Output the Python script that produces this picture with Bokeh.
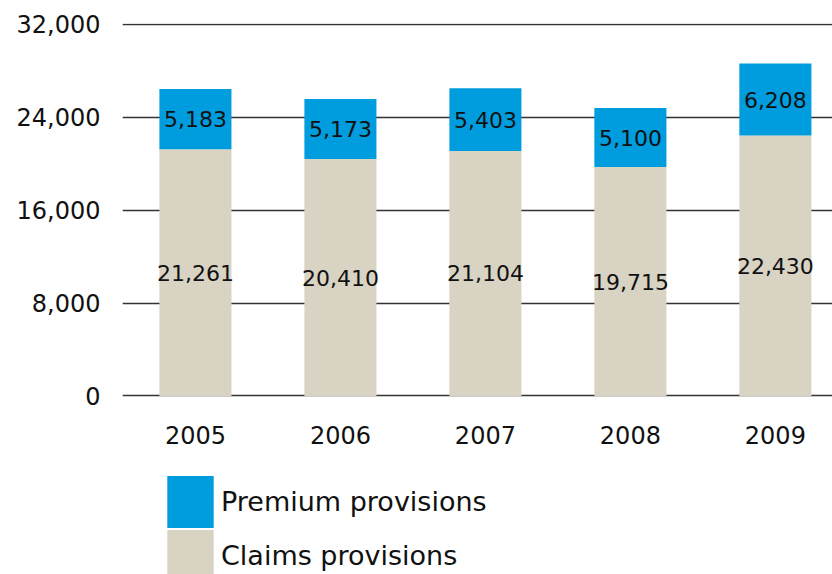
from bokeh.plotting import figure
from bokeh.models import ColumnDataSource, Range1d, FixedTicker, NumeralTickFormatter, Legend, LegendItem
from bokeh.core.properties import value
from bokeh.embed import file_html
from bokeh.resources import INLINE

years = [2005, 2006, 2007, 2008, 2009]
year_labels = ["2005", "2006", "2007", "2008", "2009"]
claims = [21261, 20410, 21104, 19715, 22430]
premium = [5183, 5173, 5403, 5100, 6208]
y_ticks = [0, 8000, 16000, 24000, 32000]
series_names = ["Premium provisions", "Claims provisions"]

BLUE = "#009DDE"
BEIGE = "#D8D3C3"
FONT = "DejaVu Sans"

totals = [c + p for c, p in zip(claims, premium)]
src = ColumnDataSource(dict(
    x=years,
    claims=claims,
    premium=premium,
    total=totals,
    zero=[0] * len(years),
    claims_mid=[c / 2 for c in claims],
    premium_mid=[c + p / 2 for c, p in zip(claims, premium)],
    claims_txt=[f"{c:,}" for c in claims],
    premium_txt=[f"{p:,}" for p in premium],
))

p = figure(width=832, height=574, output_backend="svg", toolbar_location=None,
           x_range=Range1d(2004.497, 2009.394), y_range=Range1d(-15376, 32086),
           min_border_left=122, min_border_right=0, min_border_top=23, min_border_bottom=0)
p.outline_line_color = None
p.background_fill_color = "white"
p.border_fill_color = "white"

r_claims = p.vbar(x="x", bottom="zero", top="claims", width=0.497, source=src,
                  fill_color=BEIGE, line_color=None)
r_prem = p.vbar(x="x", bottom="claims", top="total", width=0.497, source=src,
                fill_color=BLUE, line_color=None)

p.text(x="x", y="claims_mid", text="claims_txt", source=src, text_align="center",
       text_baseline="middle", text_font=value(FONT), text_font_size="22px", text_color="#111111")
p.text(x="x", y="premium_mid", text="premium_txt", source=src, text_align="center",
       text_baseline="middle", text_font=value(FONT), text_font_size="22px", text_color="#111111")

p.xgrid.grid_line_color = None
p.ygrid.ticker = FixedTicker(ticks=y_ticks)
p.ygrid.grid_line_color = "#333333"
p.ygrid.grid_line_width = 1.4

p.yaxis.ticker = FixedTicker(ticks=y_ticks)
p.yaxis.formatter = NumeralTickFormatter(format="0,0")
p.xaxis.ticker = FixedTicker(ticks=years)
p.xaxis.major_label_overrides = {y: l for y, l in zip(years, year_labels)}
p.xaxis.fixed_location = 0
for ax in (p.xaxis, p.yaxis):
    ax.axis_line_color = None
    ax.major_tick_line_color = None
    ax.minor_tick_line_color = None
    ax.major_label_text_font = FONT
    ax.major_label_text_font_size = "24px"
    ax.major_label_text_color = "#111111"
p.yaxis.major_label_standoff = 16
p.xaxis.major_label_standoff = 24


def make_legend(name, renderer, loc):
    return Legend(items=[LegendItem(label=name, renderers=[renderer])],
                  location=loc, orientation="vertical",
                  glyph_width=58, glyph_height=65, label_height=52,
                  label_text_font=FONT, label_text_font_size="27px", label_text_color="#111111",
                  label_standoff=2, spacing=0, padding=0, margin=0,
                  border_line_color=None, background_fill_alpha=0)


p.add_layout(make_legend(series_names[0], r_prem, (39, 40)), "center")
p.add_layout(make_legend(series_names[1], r_claims, (39, -14)), "center")

open("out.html", "w").write(file_html(p, INLINE))
